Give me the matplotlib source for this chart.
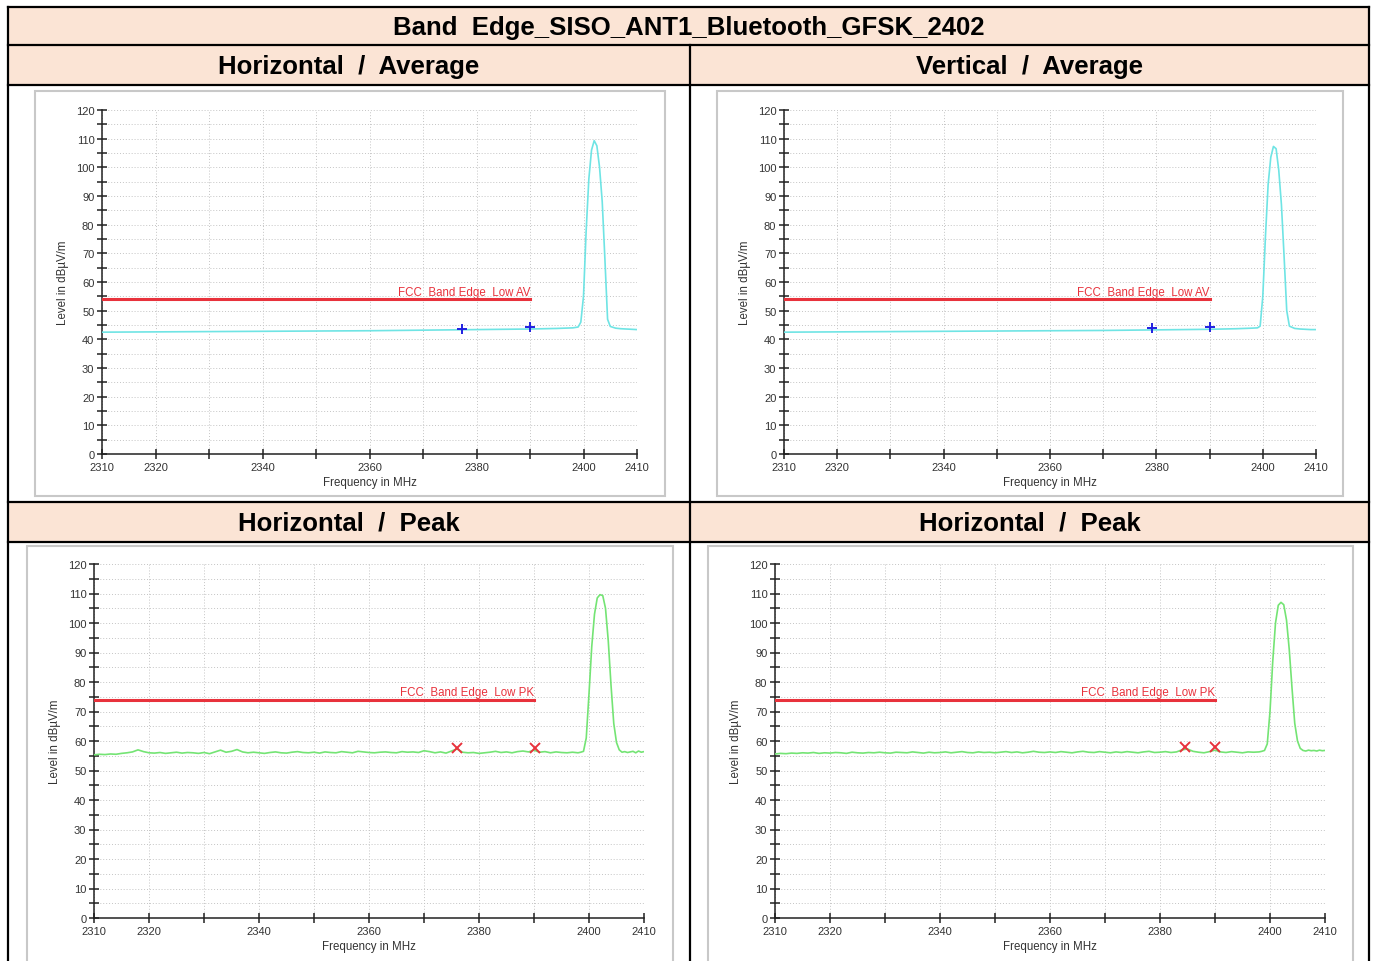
import numpy as np
import matplotlib
matplotlib.use("Agg")
import matplotlib.pyplot as plt
from matplotlib.patches import Rectangle
from matplotlib.ticker import MultipleLocator, FixedLocator

plt.rcParams["font.family"] = ["Liberation Sans", "DejaVu Sans"]

# ─── Data ─────────────────────────────────────────────────────────────────────

TITLE = "Band  Edge_SISO_ANT1_Bluetooth_GFSK_2402"
HEADERS = ["Horizontal  /  Average", "Vertical  /  Average",
           "Horizontal  /  Peak", "Horizontal  /  Peak"]

# average sweeps (sparse points, trace is smooth)
AV_FREQ = [2310, 2320, 2330, 2340, 2350, 2360, 2370, 2380, 2390, 2395, 2398,
           2399, 2399.5, 2400, 2400.5, 2401, 2401.5, 2402, 2402.5, 2403,
           2403.5, 2404, 2404.5, 2405, 2406, 2407, 2408, 2409, 2410]
AV_HORIZ = [42.5, 42.6, 42.7, 42.8, 42.9, 43.0, 43.2, 43.4, 43.6, 43.8, 44.0,
            44.3, 46.0, 55.0, 78.0, 96.0, 106.0, 109.3, 107.5, 100.0,
            88.0, 68.0, 47.0, 44.5, 43.9, 43.7, 43.6, 43.5, 43.4]
AV_VERT = [42.5, 42.6, 42.7, 42.8, 42.9, 43.0, 43.1, 43.3, 43.5, 43.7, 43.9,
           44.0, 44.6, 55.0, 76.0, 94.0, 103.5, 107.3, 106.5, 99.0,
           87.0, 69.0, 50.0, 44.6, 43.8, 43.6, 43.5, 43.4, 43.4]

# peak sweeps: 1 MHz steps up to 2397, 0.5 MHz steps around the carrier
PK_FREQ = np.concatenate([np.arange(2310, 2398, 1.0),
                          np.arange(2398, 2410.01, 0.5)])
PK_HORIZ_A = [
    55.3, 55.5, 55.4, 55.6, 55.5, 55.8, 56.0, 56.3, 57.0, 56.4,
    56.0, 55.9, 56.1, 55.8, 56.0, 56.2, 55.9, 56.1, 56.0, 55.8,
    56.1, 55.7, 56.3, 56.9, 56.2, 56.5, 57.1, 56.3, 56.0, 56.2,
    56.0, 55.8, 56.1, 56.3, 56.0, 55.9, 56.2, 56.4, 56.1, 56.0,
    56.2, 55.9, 56.3, 56.1, 56.0, 56.4, 56.2, 56.0, 56.5, 56.3,
    56.1, 56.0, 56.2, 56.3, 56.1, 56.0, 56.4, 56.2, 56.3, 56.1,
    56.7, 56.4, 56.0, 56.3, 55.9, 56.6, 57.3, 56.2, 56.0, 56.1,
    55.8, 56.0, 56.2, 56.5, 56.1, 56.3, 56.0, 56.4, 56.6, 56.3,
    56.9, 56.2, 56.4, 56.0, 56.3, 56.1, 56.0, 56.2,
    56.0, 56.2, 56.5, 61.0, 76.0, 92.0, 103.0, 108.5, 109.6, 109.3,
    105.0, 94.0, 79.0, 66.0, 59.5, 57.0, 56.2, 56.4, 56.1, 56.3,
    56.5, 56.0, 56.6, 56.2, 56.4,
]
PK_HORIZ_B = [
    55.6, 55.8, 55.7, 55.9, 55.8, 56.0, 55.9, 56.1, 55.8, 56.0,
    55.9, 56.1, 56.0, 55.8, 56.2, 56.0, 55.9, 56.1, 56.0, 56.2,
    56.0, 55.9, 56.2, 56.1, 56.0, 56.3, 56.1, 55.9, 56.2, 56.0,
    56.1, 56.3, 56.0, 56.2, 56.4, 56.1, 56.0, 56.3, 56.1, 56.2,
    56.0, 56.2, 56.4, 56.1, 56.3, 56.0, 56.2, 56.5, 56.2, 56.1,
    56.3, 56.1, 56.4, 56.2, 56.0, 56.3, 56.5, 56.2, 56.1, 56.4,
    56.2, 56.0, 56.3, 56.1, 56.4, 56.2, 56.0, 56.3, 56.5, 56.1,
    56.2, 56.4, 56.1, 56.3, 57.0, 57.3, 56.5, 56.2, 56.0, 56.4,
    56.9, 56.3, 56.1, 56.4, 56.2, 56.0, 56.3, 56.2,
    56.3, 56.5, 56.8, 59.0, 70.0, 87.0, 100.0, 106.0, 107.0, 106.2,
    101.0, 91.0, 78.0, 66.0, 60.0, 57.5, 56.8, 56.6, 56.9, 56.7,
    56.8, 56.6, 56.9, 56.7, 56.8,
]

# marker readings
AV_MARK_H = ([2377.2, 2390.0], [43.7, 44.2])
AV_MARK_V = ([2379.2, 2390.0], [43.9, 44.3])
PK_MARK_A = ([2376.0, 2390.2], [57.5, 57.5])
PK_MARK_B = ([2384.6, 2390.0], [57.9, 57.9])

LIMIT_AV = 54.0
LIMIT_PK = 74.0
LIMIT_END = 2390
LIMIT_AV_LABEL = "FCC  Band Edge  Low AV"
LIMIT_PK_LABEL = "FCC  Band Edge  Low PK"

X_TICKS = [2310, 2320, 2330, 2340, 2350, 2360, 2370, 2380, 2390, 2400, 2410]
X_TICK_LABELS = ["2310", "2320", "", "2340", "", "2360", "", "2380", "",
                 "2400", "2410"]

# ─── Layout (pixels) ──────────────────────────────────────────────────────────

W, H = 1376, 962
HEAD_FILL = "#FBE4D5"
CYAN = "#6FE4E4"
GREEN = "#74E474"
RED = "#E8323C"


def px_axes(fig, left, right, top, bottom):
    return fig.add_axes([left / W, 1 - bottom / H, (right - left) / W,
                         (bottom - top) / H])


def style_axes(ax):
    ax.set_xlim(2310, 2410)
    ax.set_ylim(0, 120)
    for side in ("top", "right"):
        ax.spines[side].set_visible(False)
    for side in ("left", "bottom"):
        ax.spines[side].set_linewidth(1.1)
        ax.spines[side].set_color("#222222")
    ax.xaxis.set_major_locator(FixedLocator(X_TICKS))
    ax.set_xticklabels(X_TICK_LABELS)
    ax.yaxis.set_major_locator(MultipleLocator(10))
    ax.yaxis.set_minor_locator(MultipleLocator(5))
    ax.tick_params(which="both", direction="inout", length=7, width=1.1,
                   color="#222222", labelsize=8, labelcolor="#333333", pad=2)
    ax.grid(which="both", axis="y", color="#C4C4C4", lw=0.7,
            linestyle=(0, (1, 2)))
    ax.grid(which="major", axis="x", color="#C4C4C4", lw=0.7,
            linestyle=(0, (1, 2)))
    ax.set_xlabel("Frequency in MHz", fontsize=8.3, color="#333333",
                  labelpad=3)
    ax.set_ylabel("Level in dBµV/m", fontsize=8.3, color="#333333",
                  labelpad=5)
    ax.set_facecolor("white")


def draw_panel(fig, box, frame, freq, level, color, marks, marker, mcolor,
               limit, label):
    fx0, fy0, fx1, fy1 = frame
    bg.add_patch(Rectangle((fx0, fy0), fx1 - fx0, fy1 - fy0, fc="white",
                           ec="#C8C8C8", lw=1.5, zorder=2))
    ax = px_axes(fig, *box)
    style_axes(ax)
    ax.plot([2310, LIMIT_END], [limit, limit], color=RED, lw=2.2, zorder=3)
    ax.text(LIMIT_END, limit + 0.5, label, color=RED, fontsize=8.3,
            ha="right", va="bottom", zorder=4)
    ax.plot(freq, level, color=color, lw=1.2, zorder=4)
    ax.plot(marks[0], marks[1], linestyle="none", marker=marker, color=mcolor,
            markersize=7, mew=1.4, zorder=5)
    return ax


fig = plt.figure(figsize=(W / 100, H / 100), dpi=100)
bg = fig.add_axes([0, 0, 1, 1])
bg.set_xlim(0, W)
bg.set_ylim(H, 0)
bg.axis("off")

# table header rows
for y0, y1 in [(8, 46), (46, 86), (503, 543)]:
    bg.add_patch(Rectangle((8, y0), 1361, y1 - y0, fc=HEAD_FILL, ec="none"))
for y in [8, 46, 86, 503, 543]:
    bg.plot([8, 1369], [y, y], color="black", lw=1.6)
bg.plot([8, 8], [8, H], color="black", lw=1.6)
bg.plot([1369, 1369], [8, H], color="black", lw=1.6)
bg.plot([690, 690], [46, H], color="black", lw=1.6)

bg.text(689, 28, TITLE, ha="center", va="center", fontsize=18.5,
        fontweight="bold")
for (cx, cy), txt in zip([(349, 67), (1030, 67), (349, 524), (1030, 524)],
                         HEADERS):
    bg.text(cx, cy, txt, ha="center", va="center", fontsize=18.5,
            fontweight="bold")

draw_panel(fig, (102, 637, 111, 455), (35, 92, 665, 497), AV_FREQ, AV_HORIZ,
           CYAN, AV_MARK_H, "+", "#2020E0", LIMIT_AV, LIMIT_AV_LABEL)
draw_panel(fig, (784, 1316, 111, 455), (717, 92, 1343, 497), AV_FREQ, AV_VERT,
           CYAN, AV_MARK_V, "+", "#2020E0", LIMIT_AV, LIMIT_AV_LABEL)
draw_panel(fig, (94, 644, 565, 919), (27, 547, 673, 970), PK_FREQ,
           PK_HORIZ_A, GREEN, PK_MARK_A, "x", RED, LIMIT_PK, LIMIT_PK_LABEL)
draw_panel(fig, (775, 1325, 565, 919), (708, 547, 1353, 970), PK_FREQ,
           PK_HORIZ_B, GREEN, PK_MARK_B, "x", RED, LIMIT_PK, LIMIT_PK_LABEL)

fig.savefig("out.png", dpi=100)
